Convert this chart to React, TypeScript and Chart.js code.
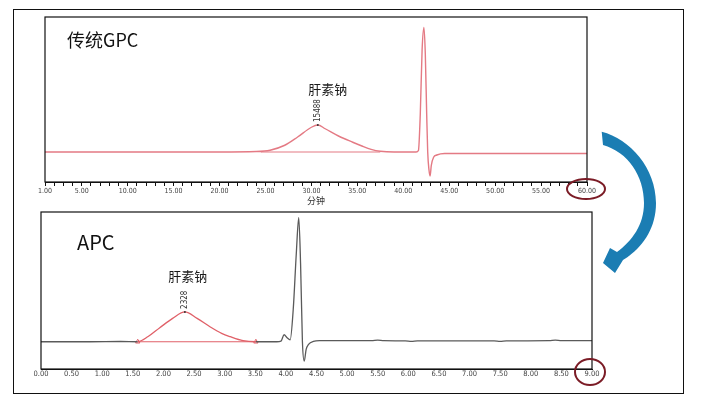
import { useEffect, useRef } from "react";
import { Chart, registerables } from "chart.js";

Chart.register(...registerables);

// Conventional GPC trace (retention time in minutes, detector signal)
const GPC_TIME = [1, 10, 20, 24, 25.5, 27.1, 28.5, 30.0, 30.7, 31.5, 33, 34.5, 35.5, 36.5, 37.5, 39, 41.4, 41.65, 41.85, 42.05, 42.25, 42.4, 42.55, 42.66, 42.8, 42.92, 43.05, 43.3, 43.65, 44.5, 50, 60];
const GPC_SIGNAL = [0, 0, 0, 0.3, 1.2, 4.5, 10, 16.5, 18, 15.5, 10.5, 6.5, 4, 1.8, 0.5, 0, 0, 1, 25, 68, 83, 65, 25, 0, -12, -16, -9, -3.5, -2, -1, -1, -1];
const GPC_BASE_TIME = [24.5, 37.5];
const GPC_BASE_SIGNAL = [0, 0];
const GPC_PEAK_TIME = 30.7;
const GPC_PEAK_SIGNAL = 18;
const GPC_PEAK_LABEL = "15488";

// APC trace
const APC_TIME = [0, 0.8, 1.3, 1.58, 1.75, 1.94, 2.15, 2.35, 2.55, 2.76, 2.95, 3.09, 3.3, 3.51, 3.85, 3.92, 3.97, 4.02, 4.07, 4.12, 4.17, 4.21, 4.24, 4.27, 4.3, 4.33, 4.37, 4.45, 4.55, 5.4, 5.5, 5.6, 5.95, 6.05, 6.15, 7.4, 7.5, 7.6, 8.3, 8.4, 8.5, 9];
const APC_SIGNAL = [0, 0, 0.2, 0, 4, 10.8, 18, 23, 18, 11.6, 6.5, 3.9, 0.8, 0, 0, 0.5, 5.4, 3, 1.5, 25, 68, 95.6, 60, 0, -15, -6, -2, 0.3, 0.8, 0.8, 1.3, 0.8, 0.7, 0.3, 0.7, 0.7, 0.3, 0.7, 0.8, 1.2, 0.8, 0.8];
const APC_BASE_TIME = [1.58, 3.51];
const APC_BASE_SIGNAL = [0, 0];
const APC_PEAK_TIME = 2.35;
const APC_PEAK_SIGNAL = 23;
const APC_PEAK_LABEL = "2328";

const COMPOUND = "肝素钠";
const GPC_TITLE = "传统GPC";
const APC_TITLE = "APC";
const TIME_UNIT = "分钟";

const RED = "rgb(228,122,132)";
const RED_APC = "rgb(224,96,104)";
const GRAY = "#5a5a5a";
const TICK_FONT = "'Liberation Sans Narrow', 'DejaVu Sans Condensed', Arial, sans-serif";
const CJK_FONT = "'Noto Sans CJK SC', sans-serif";

const pts = (xs: number[], ys: number[]) => xs.map((x, i) => ({ x, y: ys[i] }));

const overlay = {
  id: "overlay",
  afterDraw(chart: any, _args: any, opts: any) {
    const { ctx, chartArea: a, scales } = chart;
    const x = scales.x;
    const y = scales.y;
    ctx.save();
    ctx.strokeStyle = "#111";
    ctx.lineWidth = 1.2;
    ctx.strokeRect(a.left, a.top, a.right - a.left, a.bottom - a.top);

    ctx.fillStyle = "#111";
    ctx.font = opts.titleFont;
    ctx.textAlign = "left";
    ctx.textBaseline = "alphabetic";
    ctx.fillText(opts.title, a.left + opts.titleDx, a.top + opts.titleDy);

    const px = x.getPixelForValue(opts.peakTime);
    const py = y.getPixelForValue(opts.peakValue);
    ctx.fillStyle = "#333";
    ctx.beginPath();
    ctx.arc(px, py, 1, 0, Math.PI * 2);
    ctx.fill();

    ctx.save();
    ctx.translate(px, py - 3);
    ctx.rotate(-Math.PI / 2);
    ctx.font = `8px ${TICK_FONT}`;
    ctx.textAlign = "left";
    ctx.textBaseline = "middle";
    ctx.fillText(opts.peakLabel, 0, 0);
    ctx.restore();

    ctx.fillStyle = "#1a1a1a";
    ctx.font = `13px ${CJK_FONT}`;
    ctx.textAlign = "center";
    ctx.textBaseline = "middle";
    ctx.fillText(COMPOUND, px + opts.nameDx, py + opts.nameDy);
    ctx.restore();
  },
};

export default function App() {
  const gpcRef = useRef<HTMLCanvasElement>(null);
  const apcRef = useRef<HTMLCanvasElement>(null);

  useEffect(() => {
    const gpc = new Chart(gpcRef.current!, {
      type: "line",
      data: {
        datasets: [
          {
            data: pts(GPC_TIME, GPC_SIGNAL),
            borderColor: RED,
            borderWidth: 1.4,
            pointRadius: 0,
            cubicInterpolationMode: "monotone",
          },
          {
            data: pts(GPC_BASE_TIME, GPC_BASE_SIGNAL),
            borderColor: RED,
            borderWidth: 1.2,
            pointRadius: 0,
          },
        ],
      },
      options: {
        responsive: false,
        animation: false,
        events: [],
        layout: { padding: { left: 45, right: 114, top: 17, bottom: 197 } },
        plugins: {
          legend: { display: false },
          tooltip: { enabled: false },
          overlay: {
            title: GPC_TITLE,
            titleFont: `18px 'Liberation Sans Narrow', ${CJK_FONT}`,
            titleDx: 22,
            titleDy: 30,
            peakTime: GPC_PEAK_TIME,
            peakValue: GPC_PEAK_SIGNAL,
            peakLabel: GPC_PEAK_LABEL,
            nameDx: 10,
            nameDy: -36,
          },
        } as any,
        scales: {
          x: {
            type: "linear",
            min: 1,
            max: 60,
            afterFit: (s: any) => {
              s.height = 24;
            },
            grid: { drawOnChartArea: false, drawTicks: true, tickLength: 4, color: "#111" },
            border: { display: true, color: "#111" },
            ticks: {
              stepSize: 1,
              autoSkip: false,
              maxRotation: 0,
              padding: 1,
              color: "#444",
              font: { family: TICK_FONT, size: 7 },
              callback: (v: any) => (v === 1 || v % 5 === 0 ? Number(v).toFixed(2) : ""),
            },
            title: {
              display: true,
              text: TIME_UNIT,
              color: "#333",
              font: { family: CJK_FONT, size: 9 },
              padding: 0,
            },
          },
          y: { type: "linear", min: -20, max: 90, display: false },
        },
      },
      plugins: [overlay],
    } as any);

    const apc = new Chart(apcRef.current!, {
      type: "line",
      data: {
        datasets: [
          {
            data: pts(APC_TIME, APC_SIGNAL),
            borderColor: GRAY,
            borderWidth: 1.3,
            pointRadius: 0,
            cubicInterpolationMode: "monotone",
            segment: {
              borderColor: (c: any) =>
                c.p0.parsed.x >= APC_BASE_TIME[0] - 1e-6 && c.p1.parsed.x <= APC_BASE_TIME[1] + 1e-6 ? RED_APC : GRAY,
            },
          },
          {
            data: pts(APC_BASE_TIME, APC_BASE_SIGNAL),
            borderColor: RED_APC,
            borderWidth: 1.1,
            pointRadius: 2.5,
            pointStyle: "triangle",
            pointBorderColor: RED_APC,
            pointBackgroundColor: "rgba(0,0,0,0)",
            pointBorderWidth: 1,
          },
        ],
      },
      options: {
        responsive: false,
        animation: false,
        events: [],
        layout: { padding: { left: 41, right: 109, top: 212, bottom: 20 } },
        plugins: {
          legend: { display: false },
          tooltip: { enabled: false },
          overlay: {
            title: APC_TITLE,
            titleFont: `20px 'Liberation Sans Narrow', ${CJK_FONT}`,
            titleDx: 36,
            titleDy: 38,
            peakTime: APC_PEAK_TIME,
            peakValue: APC_PEAK_SIGNAL,
            peakLabel: APC_PEAK_LABEL,
            nameDx: 3,
            nameDy: -36,
          },
        } as any,
        scales: {
          x: {
            type: "linear",
            min: 0,
            max: 9,
            afterFit: (s: any) => {
              s.height = 14;
            },
            grid: { drawOnChartArea: false, drawTicks: false },
            border: { display: true, color: "#111" },
            ticks: {
              stepSize: 0.5,
              autoSkip: false,
              maxRotation: 0,
              padding: 1,
              color: "#444",
              font: { family: TICK_FONT, size: 7.5 },
              callback: (v: any) => Number(v).toFixed(2),
            },
          },
          y: { type: "linear", min: -21, max: 100, display: false },
        },
      },
      plugins: [overlay],
    } as any);

    return () => {
      gpc.destroy();
      apc.destroy();
    };
  }, []);

  const canvasStyle: React.CSSProperties = { position: "absolute", left: 0, top: 0 };

  return (
    <div style={{ position: "absolute", left: 0, top: 0, width: 701, height: 403, background: "#fff", overflow: "hidden" }}>
      <canvas ref={gpcRef} width={701} height={403} style={canvasStyle} />
      <canvas ref={apcRef} width={701} height={403} style={canvasStyle} />
      <svg width={701} height={403} style={{ position: "absolute", left: 0, top: 0, pointerEvents: "none" }}>
        <rect x={13.5} y={9.5} width={670} height={384} fill="none" stroke="#111" strokeWidth={1} />
        <ellipse cx={586} cy={189} rx={19} ry={10} fill="none" stroke="#7b1c26" strokeWidth={2} />
        <ellipse cx={590} cy={372} rx={15} ry={13} fill="none" stroke="#7b1c26" strokeWidth={2} />
        <path
          d="M601.7,131.7 C630,139 656,168 656,203 C656,230 641,249 623,260 L615,273 L603,263 L610,248 L617,252 C632,241 644,225 644,203 C644,176 628,152 603,145 Z"
          fill="#1b7db3"
        />
      </svg>
    </div>
  );
}
